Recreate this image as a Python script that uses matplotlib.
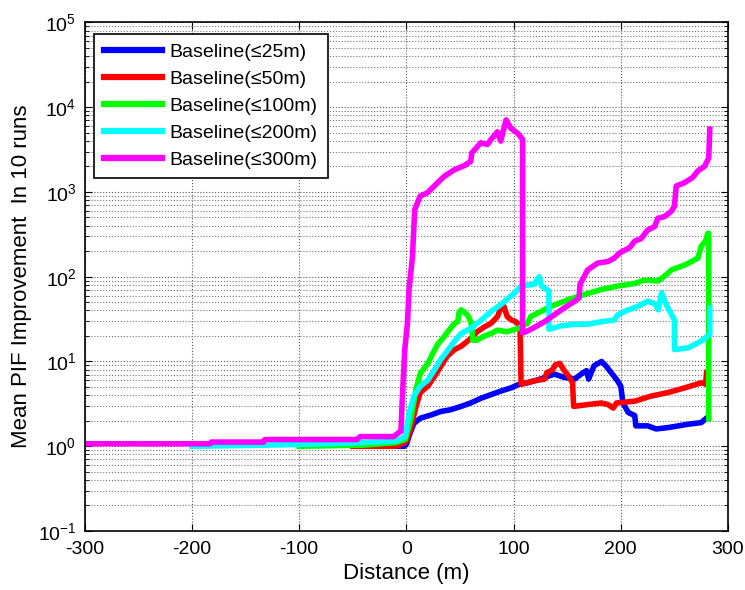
import numpy as np
import matplotlib
matplotlib.use("Agg")
from matplotlib import pyplot as plt
from matplotlib.ticker import LogLocator, NullFormatter

plt.rcParams['font.family'] = ['Liberation Sans', 'DejaVu Sans']
plt.rcParams['mathtext.fontset'] = 'custom'
plt.rcParams['mathtext.rm'] = 'Liberation Sans'
plt.rcParams['axes.unicode_minus'] = False

# values
labels = ['Baseline(≤25m)', 'Baseline(≤50m)', 'Baseline(≤100m)',
          'Baseline(≤200m)', 'Baseline(≤300m)']
colors = ['#0000ff', '#ff0000', '#00ff00', '#00ffff', '#ff00ff']

x25 = [-22, -2, 0, 2.5, 7, 13, 23, 32, 41, 51, 60, 70, 79, 88, 98, 105, 113,
       125, 138, 147, 157, 163, 168, 170, 175, 182, 186, 191, 197, 200, 202,
       207, 213, 214, 225, 233, 244, 263, 275, 281]
y25 = [1.0, 1.0, 1.05, 1.32, 1.86, 2.14, 2.34, 2.57, 2.69, 2.95, 3.24, 3.7,
       4.07, 4.47, 4.9, 5.37, 5.6, 6.2, 7.1, 6.5, 6.2, 7.1, 7.8, 6.2, 8.9,
       10.0, 8.9, 7.4, 5.9, 5.1, 3.24, 2.5, 2.3, 1.74, 1.74, 1.6, 1.66, 1.82,
       1.9, 2.2]

x50 = [-50, -10, -3, 0, 4, 9, 13, 20, 26, 32, 38, 45, 51, 60, 66, 73, 79, 85,
       88, 91, 94, 98, 102, 106, 107, 119, 129, 131, 136, 139, 143, 147, 151,
       155, 156, 169, 182, 188, 193, 196, 213, 228, 244, 260, 275, 279, 280]
y50 = [1.0, 1.0, 1.08, 1.15, 1.6, 2.95, 4.3, 5.1, 6.6, 8.7, 11.5, 13.8, 15.1,
       18.6, 22.4, 25.7, 28.2, 33.9, 42.7, 44.7, 33.9, 30.9, 29.5, 26.3, 5.4,
       5.9, 6.2, 7.4, 7.9, 9.1, 9.5, 7.9, 6.8, 5.6, 2.95, 3.1, 3.24, 3.1, 2.82,
       3.24, 3.4, 3.9, 4.3, 4.9, 5.6, 5.4, 7.4]

x100 = [-100, -40, -10, -1, 4, 9, 13, 20, 24, 29, 35, 41, 45, 48, 49, 51, 57,
        60, 61, 62, 66, 71, 79, 85, 94, 104, 113, 116, 135, 151, 166, 182, 197,
        213, 222, 235, 244, 247, 260, 272, 275, 279, 281, 282, 282]
y100 = [1.0, 1.03, 1.1, 1.2, 2.04, 4.7, 7.2, 9.5, 12.0, 15.8, 19.5, 24.5,
        28.2, 29.5, 37.2, 40.7, 35.5, 29.5, 25.1, 17.8, 17.8, 19.5, 21.4, 23.4,
        22.4, 24.5, 28.2, 33.9, 44.7, 53.7, 61.7, 70.8, 77.6, 83.2, 91.2, 89.1,
        110, 120, 138, 166, 229, 263, 324, 324, 2.1]

x200 = [-200, -130, -60, -10, -1, 2.5, 7, 13, 20, 26, 32, 38, 45, 51, 60, 70,
        79, 88, 101, 107, 119, 124, 126, 133, 133, 144, 157, 169, 182, 194,
        197, 207, 216, 225, 232, 235, 238, 242, 250, 250, 263, 275, 283, 283]
y200 = [1.0, 1.03, 1.08, 1.15, 1.3, 2.45, 3.9, 5.1, 6.0, 7.9, 10.5, 13.2,
        17.4, 21.4, 24.5, 30.9, 38.9, 46.8, 64.6, 77.6, 81.3, 100, 77.6, 67.6,
        24.0, 26.3, 27.5, 27.5, 29.5, 30.9, 35.5, 40.7, 44.7, 51.3, 47.9, 40.7,
        64.6, 47.9, 30.9, 13.8, 14.5, 17.4, 20.9, 42.7]

x300 = [-300, -183, -182, -133, -132, -46, -43, -12, -7, -5, -4, -1.5, 1, 2.5,
        5.6, 7.8, 12.8, 19.6, 26, 35, 44.5, 54, 60, 61, 69.5, 75.7, 79, 85, 88,
        93, 97.5, 104, 108.4, 108.4, 111.5, 119, 129, 138, 147, 157, 161, 162,
        169, 178.5, 188, 194, 199, 208, 213, 219, 225, 231.5, 234.6, 241, 247,
        250, 251.7, 259.5, 267, 272, 278, 282, 283]
y300 = [1.07, 1.07, 1.12, 1.12, 1.2, 1.2, 1.3, 1.3, 1.45, 1.5, 3.2, 13.8, 28,
        70.8, 166, 617, 891, 977, 1175, 1514, 1820, 2042, 2291, 2884, 3802,
        3631, 4169, 5129, 3981, 7079, 5623, 4898, 4169, 21.9, 22.4, 25.1, 29.5,
        35.5, 42.7, 51.3, 56.2, 81.3, 120, 145, 151, 166, 191, 219, 263, 282,
        355, 389, 490, 513, 589, 676, 1175, 1288, 1479, 1778, 1995, 2512, 5500]

xs = [x25, x50, x100, x200, x300]
ys = [y25, y50, y100, y200, y300]

fig = plt.figure(figsize=(7.45, 5.9), dpi=100)
ax = fig.add_axes([0.1137, 0.1, 0.8635, 0.862])

for x, y, c, lab in zip(xs, ys, colors, labels):
    ax.plot(x, y, color=c, lw=4, label=lab, solid_joinstyle='round')

ax.set_yscale('log')
ax.set_xlim(-300, 300)
ax.set_ylim(1e-1, 1e5)
ax.set_xticks(np.arange(-300, 301, 100))
ax.yaxis.set_major_locator(LogLocator(base=10, numticks=10))
ax.yaxis.set_minor_locator(LogLocator(base=10, subs=np.arange(2, 10), numticks=10))
ax.yaxis.set_minor_formatter(NullFormatter())

ax.grid(True, which='major', color='0.35', linestyle=':', lw=0.8)
ax.grid(True, which='minor', axis='y', color='0.45', linestyle=':', lw=0.8)

ax.tick_params(which='both', direction='in', top=True, right=True, labelsize=14)
ax.tick_params(which='major', length=5)
ax.tick_params(which='minor', length=3)
ax.tick_params(axis='x', pad=7)
ax.tick_params(axis='y', pad=6)
for s in ax.spines.values():
    s.set_linewidth(1.2)

ax.set_xlabel('Distance (m)', fontsize=16, labelpad=4)
ax.set_ylabel('Mean PIF Improvement  In 10 runs', fontsize=16, labelpad=4)

leg = ax.legend(loc='upper left', bbox_to_anchor=(0.0145, 0.978), fontsize=14,
                handlelength=3.0, labelspacing=0.48, borderaxespad=0,
                fancybox=False, framealpha=1, edgecolor='black',
                borderpad=0.5, handletextpad=0.4)
leg.get_frame().set_linewidth(1.2)
for line in leg.get_lines():
    line.set_linewidth(4.5)

fig.savefig('out.png', dpi=100)
